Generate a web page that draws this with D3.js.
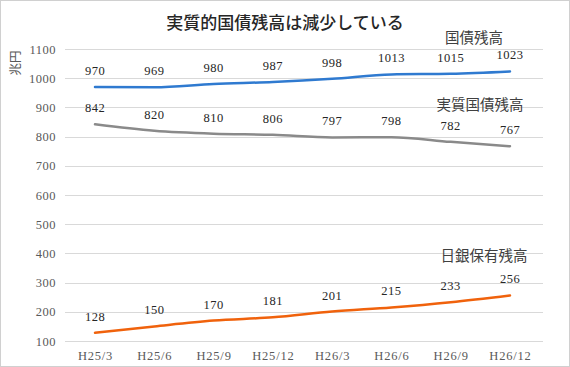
<!DOCTYPE html>
<html>
<head>
<meta charset="utf-8">
<script src="https://cdn.jsdelivr.net/npm/d3@7"></script>
<style>
  body { margin: 0; background: #fff; }
  #container { width: 570px; height: 367px; }
  .num { font-family: "Liberation Serif", "DejaVu Serif", serif; }
</style>
</head>
<body>
<div id="container"></div>
<script>
let categories = ["H25/3", "H25/6", "H25/9", "H25/12", "H26/3", "H26/6", "H26/9", "H26/12"];
let kokusai = [970, 969, 980, 987, 998, 1013, 1015, 1023];
let jisshitsu = [842, 820, 810, 806, 797, 798, 782, 767];
let nichigin = [128, 150, 170, 181, 201, 215, 233, 256];
let yTicks = [100, 200, 300, 400, 500, 600, 700, 800, 900, 1000, 1100];
let seriesNames = ["国債残高", "実質国債残高", "日銀保有残高"];

let W = 570, H = 367;
let svg = d3.select('#container').append('svg').attr('width', W).attr('height', H);

svg.append('rect').attr('x', 0.5).attr('y', 0.5).attr('width', W - 1).attr('height', H - 1)
  .attr('fill', '#fff').attr('stroke', '#d0d0d0');

let x = d3.scalePoint().domain(categories).range([95, 510]);
let y = d3.scaleLinear().domain([100, 1100]).range([341, 49]);

// grid
svg.append('g').selectAll('line').data(yTicks).join('line')
  .attr('x1', 65).attr('x2', 543)
  .attr('y1', d => Math.round(y(d)) + 0.5).attr('y2', d => Math.round(y(d)) + 0.5)
  .attr('stroke', '#d9d9d9').attr('stroke-width', 1);

// y axis labels
let yAxis = svg.append('g').attr('transform', 'translate(56,0)')
  .call(d3.axisLeft(y).tickValues(yTicks).tickFormat(d3.format('d')).tickSize(0).tickPadding(0));
yAxis.attr('font-family', null).attr('font-size', null);
yAxis.select('.domain').remove();
yAxis.selectAll('text').attr('class', 'num').style('font-size', '12.5px').style('letter-spacing', '0.5px').attr('fill', '#595959');

// x axis labels
let xAxis = svg.append('g').attr('transform', 'translate(0,341)')
  .call(d3.axisBottom(x).tickSize(0).tickPadding(10));
xAxis.attr('font-family', null).attr('font-size', null);
xAxis.select('.domain').remove();
xAxis.selectAll('text').attr('class', 'num').style('font-size', '12.5px').style('letter-spacing', '0.8px').attr('fill', '#595959');

let series = [
  { name: seriesNames[0], values: kokusai, color: '#2f7ad0', lx: 474, ly: 43 },
  { name: seriesNames[1], values: jisshitsu, color: '#8a8a8a', lx: 480, ly: 110 },
  { name: seriesNames[2], values: nichigin, color: '#f0620c', lx: 484, ly: 261 }
];

let line = d3.line().x((d, i) => x(categories[i])).y(d => y(d)).curve(d3.curveMonotoneX);

series.forEach(function (s) {
  svg.append('path').datum(s.values)
    .attr('d', line).attr('fill', 'none')
    .attr('stroke', s.color).attr('stroke-width', 2.5).attr('stroke-linecap', 'round');
  svg.append('g').selectAll('text').data(s.values).join('text')
    .attr('class', 'num')
    .attr('x', (d, i) => x(categories[i]))
    .attr('y', d => y(d) - 12)
    .attr('text-anchor', 'middle')
    .style('font-size', '12.5px').style('letter-spacing', '0.5px').attr('fill', '#262626')
    .text(d => d);
  svg.append('text').attr('x', s.lx).attr('y', s.ly).attr('text-anchor', 'middle')
    .attr('font-family', '"Noto Sans CJK JP", sans-serif').attr('font-size', 14.5).attr('fill', '#404040')
    .text(s.name);
});

// title
svg.append('text').attr('x', 285).attr('y', 29).attr('text-anchor', 'middle')
  .attr('font-family', '"Noto Sans CJK JP", sans-serif').attr('font-size', 17).attr('font-weight', 500).attr('fill', '#262626')
  .text('実質的国債残高は減少している');

// y axis title
svg.append('text').attr('transform', 'translate(20,63) rotate(-90)').attr('text-anchor', 'middle')
  .attr('font-family', '"Noto Sans CJK JP", sans-serif').attr('font-size', 12.5).attr('fill', '#595959')
  .text('兆円');
</script>
</body>
</html>
